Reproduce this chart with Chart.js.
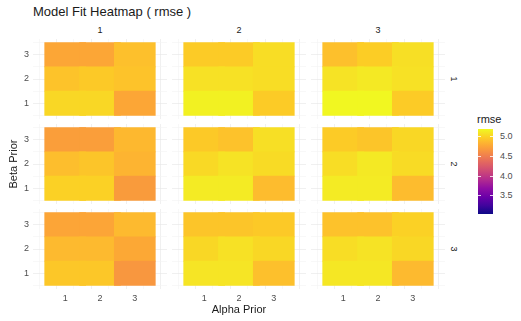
<!DOCTYPE html>
<html>
<head>
<meta charset="utf-8">
<script src="https://cdn.jsdelivr.net/npm/chart.js@4.4.1/dist/chart.umd.min.js"></script>
<style>
  body { margin: 0; background: #fff; }
  #wrap { position: relative; width: 521px; height: 321px; overflow: hidden; font-family: 'Liberation Sans', Arial, sans-serif; }
  #wrap canvas { position: absolute; }
  .txt { position: absolute; white-space: nowrap; line-height: 1; }
</style>
</head>
<body>
<div id="wrap"></div>
<script>
// facets / axes
const alphaPrior = [1, 2, 3];
const betaPrior = [1, 2, 3];
const colFacet = ['1', '2', '3'];
const rowFacet = ['1', '2', '3'];
const legendTicks = [3.5, 4.0, 4.5, 5.0];
const rmseMin = 3.04;
const rmseMax = 5.2;

// rmse per panel (row facet, col facet); inner rows = beta 1..3, cols = alpha 1..3
const rmse_1_1 = [[5.03, 5.03, 4.77], [4.93, 4.96, 4.93], [4.77, 4.77, 4.91]];
const rmse_1_2 = [[5.16, 5.16, 4.97], [5.08, 5.08, 5.06], [4.97, 4.97, 5.06]];
const rmse_1_3 = [[5.19, 5.19, 4.97], [5.09, 5.12, 5.08], [4.91, 4.98, 5.07]];
const rmse_2_1 = [[5.00, 5.00, 4.70], [4.90, 4.94, 4.85], [4.72, 4.72, 4.87]];
const rmse_2_2 = [[5.13, 5.13, 4.89], [5.04, 5.09, 5.05], [4.96, 4.92, 5.07]];
const rmse_2_3 = [[5.13, 5.13, 4.89], [5.06, 5.12, 5.05], [4.97, 4.94, 5.03]];
const rmse_3_1 = [[4.95, 4.95, 4.67], [4.88, 4.88, 4.78], [4.76, 4.76, 4.88]];
const rmse_3_2 = [[5.10, 5.10, 4.91], [5.03, 5.08, 5.03], [4.94, 4.94, 4.96]];
const rmse_3_3 = [[5.11, 5.11, 4.88], [5.06, 5.09, 5.03], [4.92, 4.92, 5.00]];
const panels = [
  [rmse_1_1, rmse_1_2, rmse_1_3],
  [rmse_2_1, rmse_2_2, rmse_2_3],
  [rmse_3_1, rmse_3_2, rmse_3_3],
];

// plasma
const plasmaStops = [
  [0.0, '#0d0887'], [0.1, '#41049d'], [0.2, '#6a00a8'], [0.3, '#8f0da4'],
  [0.4, '#b12a90'], [0.5, '#cc4778'], [0.6, '#e16462'], [0.7, '#f2844b'],
  [0.75, '#f89540'], [0.8, '#fca636'], [0.85, '#fdb92f'], [0.9, '#fcce25'],
  [0.95, '#f6e325'], [1.0, '#f0f921'],
];
function hex2rgb(h) { return [1, 3, 5].map(i => parseInt(h.slice(i, i + 2), 16)); }
function plasma(t) {
  t = Math.max(0, Math.min(1, t));
  for (let i = 1; i < plasmaStops.length; i++) {
    const [t1, c1] = plasmaStops[i];
    if (t <= t1) {
      const [t0, c0] = plasmaStops[i - 1];
      const f = (t - t0) / (t1 - t0);
      const a = hex2rgb(c0), b = hex2rgb(c1);
      return 'rgb(' + a.map((v, k) => Math.round(v + (b[k] - v) * f)).join(',') + ')';
    }
  }
  return plasmaStops[plasmaStops.length - 1][1];
}
const colorOf = v => plasma((v - rmseMin) / (rmseMax - rmseMin));

const wrap = document.getElementById('wrap');
function addText(str, x, y, css) {
  const d = document.createElement('div');
  d.className = 'txt';
  d.textContent = str;
  d.style.left = x + 'px';
  d.style.top = y + 'px';
  Object.assign(d.style, css || {});
  wrap.appendChild(d);
  return d;
}

// layout
const PL = [33, 172, 311];
const PT = [39, 124, 209];
const PW = 134, PH = 80;
const YW = 16, XH = 16;
const AX_MIN = 0.35, AX_MAX = 3.65;
const gridVals = [0.5, 1, 1.5, 2, 2.5, 3, 3.5];
const tickFont = { family: 'Liberation Sans', size: 9 };
const gridColor = ctx => (ctx.tick && !Number.isInteger(ctx.tick.value)) ? '#f3f3f3' : '#e6e6e6';

for (let r = 0; r < 3; r++) {
  for (let c = 0; c < 3; c++) {
    const showY = c === 0, showX = r === 2;
    const cv = document.createElement('canvas');
    const w = PW + (showY ? YW : 0), h = PH + (showX ? XH : 0);
    cv.width = w; cv.height = h;
    cv.style.left = (PL[c] - (showY ? YW : 0)) + 'px';
    cv.style.top = PT[r] + 'px';
    cv.style.width = w + 'px'; cv.style.height = h + 'px';
    wrap.appendChild(cv);
    const vals = panels[r][c];
    new Chart(cv, {
      type: 'bar',
      data: {
        datasets: betaPrior.map((b, bi) => ({
          data: alphaPrior.map(a => ({ x: a, y: [b - 0.5, b + 0.5] })),
          backgroundColor: vals[bi].map(colorOf),
          borderWidth: 0,
          grouped: false,
          barThickness: PW / (AX_MAX - AX_MIN) + 0.4,
        })),
      },
      options: {
        responsive: false, animation: false, devicePixelRatio: 1,
        layout: { padding: 0 },
        plugins: { legend: { display: false }, tooltip: { enabled: false } },
        scales: {
          x: {
            type: 'linear', min: AX_MIN, max: AX_MAX,
            afterBuildTicks: s => { s.ticks = gridVals.map(v => ({ value: v })); },
            afterFit: s => { s.height = showX ? XH : 0; s.paddingLeft = 0; s.paddingRight = 0; },
            grid: { color: gridColor, lineWidth: 0.6, drawTicks: false },
            border: { display: false },
            ticks: { display: showX, padding: 4, color: '#4d4d4d', font: tickFont, maxRotation: 0, autoSkip: false,
              callback: v => Number.isInteger(v) ? String(v) : '' },
          },
          y: {
            type: 'linear', min: AX_MIN, max: AX_MAX,
            afterBuildTicks: s => { s.ticks = gridVals.map(v => ({ value: v })); },
            afterFit: s => { s.width = showY ? YW : 0; s.paddingTop = 0; s.paddingBottom = 0; },
            grid: { color: gridColor, lineWidth: 0.6, drawTicks: false },
            border: { display: false },
            ticks: { display: showY, padding: 4, color: '#4d4d4d', font: tickFont, autoSkip: false,
              callback: v => Number.isInteger(v) ? String(v) : '' },
          },
        },
      },
    });
  }
}

// strip labels
colFacet.forEach((t, c) => {
  addText(t, PL[c], 26, { width: PW + 'px', textAlign: 'center', fontSize: '9px', color: '#1a1a1a' });
});
rowFacet.forEach((t, r) => {
  addText(t, 448, PT[r] + PH / 2 - 5, { width: '10px', height: '10px', textAlign: 'center', fontSize: '9px', color: '#1a1a1a', transform: 'rotate(90deg)' });
});

// titles
addText('Model Fit Heatmap ( rmse )', 33, 5, { fontSize: '13px', color: '#1a1a1a' });
addText('Alpha Prior', PL[0], 304, { width: (PL[2] + PW - PL[0]) + 'px', textAlign: 'center', fontSize: '11px', color: '#1a1a1a' });
addText('Beta Prior', 14 - 40, 164 - 6, { width: '80px', height: '12px', textAlign: 'center', fontSize: '11px', color: '#1a1a1a', transform: 'rotate(-90deg)' });

// colour bar legend
const barX = 478, barTop = 129, barH = 85, barW = 15;
addText('rmse', 477, 114, { fontSize: '11px', color: '#1a1a1a' });
const stops = [];
for (let i = 0; i <= 20; i++) stops.push(plasma(1 - i / 20) + ' ' + (i * 5) + '%');
const bar = document.createElement('div');
Object.assign(bar.style, { position: 'absolute', left: barX + 'px', top: barTop + 'px', width: barW + 'px', height: barH + 'px',
  background: 'linear-gradient(to bottom,' + stops.join(',') + ')' });
wrap.appendChild(bar);
const yOf = v => barTop + (rmseMax - v) / (rmseMax - rmseMin) * barH;
legendTicks.forEach(v => {
  const y = yOf(v);
  addText(v.toFixed(1), 500, y - 4.5, { fontSize: '9px', color: '#4d4d4d' });
  [barX, barX + barW - 3].forEach(x => {
    const t = document.createElement('div');
    Object.assign(t.style, { position: 'absolute', left: x + 'px', top: (y - 0.5) + 'px', width: '3px', height: '1px', background: 'rgba(255,255,255,0.8)' });
    wrap.appendChild(t);
  });
});
</script>
</body>
</html>
